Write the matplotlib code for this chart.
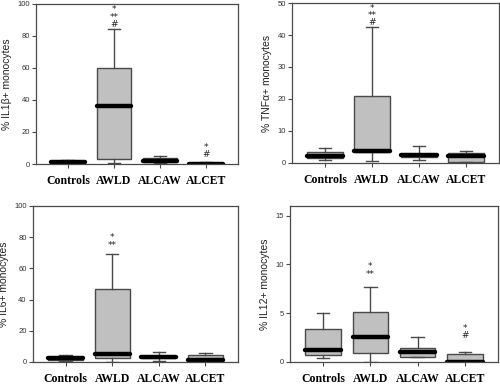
import matplotlib
matplotlib.use("Agg")
import matplotlib.pyplot as plt

groups = ["Controls", "AWLD", "ALCAW", "ALCET"]

# box stats per panel: lower whisker, q1, median, q3, upper whisker
il1_lo = [0.6, 0.5, 0.5, 0.0]
il1_q1 = [0.9, 3.4, 1.0, 0.0]
il1_med = [1.5, 36.2, 2.1, 0.3]
il1_q3 = [2.0, 60.0, 4.0, 0.8]
il1_hi = [2.2, 84.3, 5.2, 1.0]

tnf_lo = [0.9, 0.7, 1.0, 0.3]
tnf_q1 = [1.5, 3.5, 1.8, 0.4]
tnf_med = [2.2, 3.6, 2.5, 2.0]
tnf_q3 = [3.3, 20.8, 2.8, 3.0]
tnf_hi = [4.6, 42.5, 5.2, 3.7]

il6_lo = [0.5, 0.0, 0.5, 0.3]
il6_q1 = [1.5, 2.5, 2.5, 0.5]
il6_med = [2.2, 5.1, 3.3, 1.5]
il6_q3 = [3.0, 47.0, 4.0, 4.5]
il6_hi = [4.5, 69.0, 6.4, 5.4]

il12_lo = [0.45, 0.0, 0.5, 0.0]
il12_q1 = [0.7, 0.9, 0.5, 0.0]
il12_med = [1.2, 2.6, 1.0, 0.0]
il12_q3 = [3.4, 5.1, 1.4, 0.85]
il12_hi = [5.0, 7.65, 2.6, 1.0]

# significance marks: (group index, y of the top line, stacked text)
il1_marks = [(1, 99.0, "*\n**\n#"), (3, 13.0, "*\n#")]
tnf_marks = [(1, 49.8, "*\n**\n#")]
il6_marks = [(1, 82.5, "*\n**")]
il12_marks = [(1, 10.2, "*\n**"), (3, 3.9, "*\n#")]

panels = [
    ("% IL1\u03b2+ monocytes", (il1_lo, il1_q1, il1_med, il1_q3, il1_hi), il1_marks,
     100, [0, 20, 40, 60, 80, 100], [0.072, 0.574, 0.404, 0.416]),
    ("% TNF\u03b1+ monocytes", (tnf_lo, tnf_q1, tnf_med, tnf_q3, tnf_hi), tnf_marks,
     50, [0, 10, 20, 30, 40, 50], [0.584, 0.577, 0.414, 0.415]),
    ("% IL6+ monocytes", (il6_lo, il6_q1, il6_med, il6_q3, il6_hi), il6_marks,
     100, [0, 20, 40, 60, 80, 100], [0.066, 0.060, 0.410, 0.405]),
    ("% IL12+ monocytes", (il12_lo, il12_q1, il12_med, il12_q3, il12_hi), il12_marks,
     16, [0, 5, 10, 15], [0.580, 0.060, 0.416, 0.405]),
]

edge = "#4a4a4a"
fig = plt.figure(figsize=(5, 3.85), dpi=100)

for label, (lo, q1, med, q3, hi), marks, ytop, yticks, rect in panels:
    ax = fig.add_axes(rect)
    stats = []
    for i in range(len(groups)):
        stats.append({"whislo": lo[i], "q1": q1[i], "med": med[i],
                      "q3": q3[i], "whishi": hi[i], "fliers": []})
    ax.bxp(stats, positions=[1, 2, 3, 4], widths=0.75, capwidths=0.27,
           patch_artist=True, showfliers=False,
           boxprops=dict(facecolor="#c0c0c0", edgecolor=edge, linewidth=1.0),
           whiskerprops=dict(color=edge, linewidth=1.0),
           capprops=dict(color=edge, linewidth=1.0),
           medianprops=dict(color="black", linewidth=3.2, solid_capstyle="round"))
    for gi, y, txt in marks:
        ax.text(gi + 1, y, txt, ha="center", va="top", fontsize=6.5,
                linespacing=0.75, color="#222222", family="DejaVu Sans")
    ax.set_xlim(0.3, 4.7)
    ax.set_ylim(0, ytop)
    ax.set_yticks(yticks)
    ax.set_xticks([1, 2, 3, 4])
    ax.set_xticklabels(groups, family="Liberation Serif", fontweight="bold",
                       fontsize=8.5, color="black")
    for lab in ax.get_yticklabels():
        lab.set_family("Liberation Sans")
    ax.tick_params(axis="y", labelsize=5.5, length=3, width=0.8,
                   color=edge, labelcolor="#333333", pad=1.5)
    ax.tick_params(axis="x", length=3, width=0.8, color=edge, pad=5)
    ax.set_ylabel(label, family="Liberation Sans", fontsize=7.5,
                  color="#222222", labelpad=4)
    for s in ax.spines.values():
        s.set_color(edge)
        s.set_linewidth(0.9)

fig.savefig("out.png", dpi=100)
